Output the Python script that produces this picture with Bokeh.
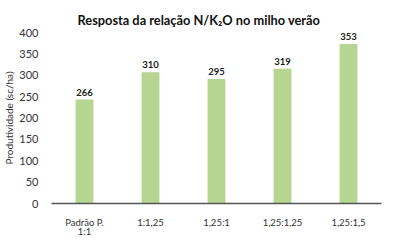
from bokeh.plotting import figure
from bokeh.models import ColumnDataSource, Range1d, FactorRange
from bokeh.embed import file_html
from bokeh.resources import INLINE
from bokeh.core.properties import value

categories = ["Padrão P.\n1:1", "1:1,25", "1,25:1", "1,25:1,25", "1,25:1,5"]
bar_heights = [243, 307, 291, 315, 373]
bar_labels = ["266", "310", "295", "319", "353"]

FONT = "Lato"

src = ColumnDataSource(dict(cat=categories, h=bar_heights, lab=bar_labels))

p = figure(width=400, height=242, x_range=FactorRange(*categories),
           y_range=Range1d(0, 400), output_backend="svg", toolbar_location=None,
           min_border_left=51, min_border_right=19, min_border_top=32,
           min_border_bottom=39)

p.vbar(x="cat", top="h", width=0.27, source=src, color="#b5d591", line_color=None)
p.text(x="cat", y="h", text="lab", source=src, text_align="center",
       text_baseline="bottom", y_offset=-4, text_font=value(FONT),
       text_font_style="bold", text_font_size="9.5px", text_color="#1a1a1a")

p.title.text = "Resposta da relação N/K₂O no milho verão"
p.title.align = "left"
p.title.offset = 26
p.title.text_font = FONT
p.title.text_font_size = "12.8px"
p.title.text_font_style = "bold"
p.title.text_color = "#111111"

p.xgrid.visible = False
p.ygrid.visible = False
p.outline_line_color = None

p.yaxis.ticker = [0, 50, 100, 150, 200, 250, 300, 350, 400]
p.yaxis.axis_line_color = None
p.yaxis.major_tick_line_color = None
p.yaxis.minor_tick_line_color = None
p.yaxis.major_label_standoff = 7
p.yaxis.major_label_text_font = FONT
p.yaxis.major_label_text_font_size = "11px"
p.yaxis.major_label_text_color = "#333333"
p.yaxis.axis_label = "Produtividade (sc/ha)"
p.yaxis.axis_label_text_font = FONT
p.yaxis.axis_label_text_font_size = "10px"
p.yaxis.axis_label_text_font_style = "normal"
p.yaxis.axis_label_text_color = "#333333"
p.yaxis.axis_label_standoff = 1

p.xaxis.axis_line_color = "#555555"
p.xaxis.axis_line_width = 1.5
p.xaxis.major_tick_line_color = None
p.xaxis.minor_tick_line_color = None
p.xaxis.major_label_standoff = 7
p.xaxis.major_label_text_font = FONT
p.xaxis.major_label_text_font_size = "9.5px"
p.xaxis.major_label_text_color = "#333333"
p.xaxis.major_label_text_line_height = 0.85

p.background_fill_color = "white"
p.border_fill_color = "white"

open("out.html", "w").write(file_html(p, INLINE))
